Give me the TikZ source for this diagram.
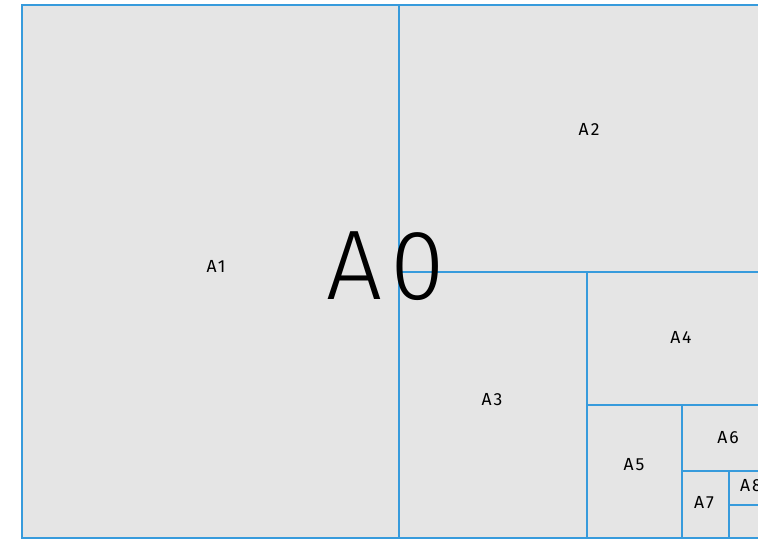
\documentclass[tikz,border=0pt]{standalone}
\usepackage{fontspec}
\setmainfont{Fira Sans}
\newfontfamily\lightfont{Fira Sans Light}
\definecolor{paperline}{RGB}{55,155,220}
\definecolor{paperfill}{RGB}{229,229,229}
\tikzset{
  cut/.style={draw=paperline, line width=2pt},
  sheetlabel/.style={inner sep=0pt, font=\fontsize{17.5}{18}\selectfont\addfontfeatures{LetterSpace=12}},
  biglabel/.style={inner sep=0pt, font=\lightfont\fontsize{99}{99}\selectfont\addfontfeatures{LetterSpace=8}}
}
\begin{document}
\begin{tikzpicture}[x=1pt,y=-1pt]
\clip (0,0) rectangle (758,539);
\fill[white] (0,0) rectangle (758,539);
% sheet corners
\coordinate (tl) at (22,5);
\coordinate (br) at (775.8,538);
\fill[paperfill] (tl) rectangle (br);
% cuts
\draw[cut] (398.9,5) -- (398.9,538);
\draw[cut] (398.9,271.5) -- (775.8,271.5);
\draw[cut] (587.4,271.5) -- (587.4,538);
\draw[cut] (587.4,404.75) -- (775.8,404.75);
\draw[cut] (681.6,404.75) -- (681.6,538);
\draw[cut] (681.6,471.4) -- (775.8,471.4);
\draw[cut] (728.7,471.4) -- (728.7,538);
\draw[cut] (728.7,504.7) -- (775.8,504.7);
\draw[cut] (tl) rectangle (br);
% labels
\node[sheetlabel] (a1) at (216,266) {A1};
\node[sheetlabel] (a2) at (589,129) {A2};
\node[sheetlabel] (a3) at (492,400) {A3};
\node[sheetlabel] (a4) at (681,337) {A4};
\node[sheetlabel] (a5) at (634,465) {A5};
\node[sheetlabel] (a6) at (728,438) {A6};
\node[sheetlabel] (a7) at (704,503) {A7};
\node[sheetlabel] (a8) at (751,486) {A8};
\node[biglabel] (a0) at (386,266) {A0};
\end{tikzpicture}
\end{document}
